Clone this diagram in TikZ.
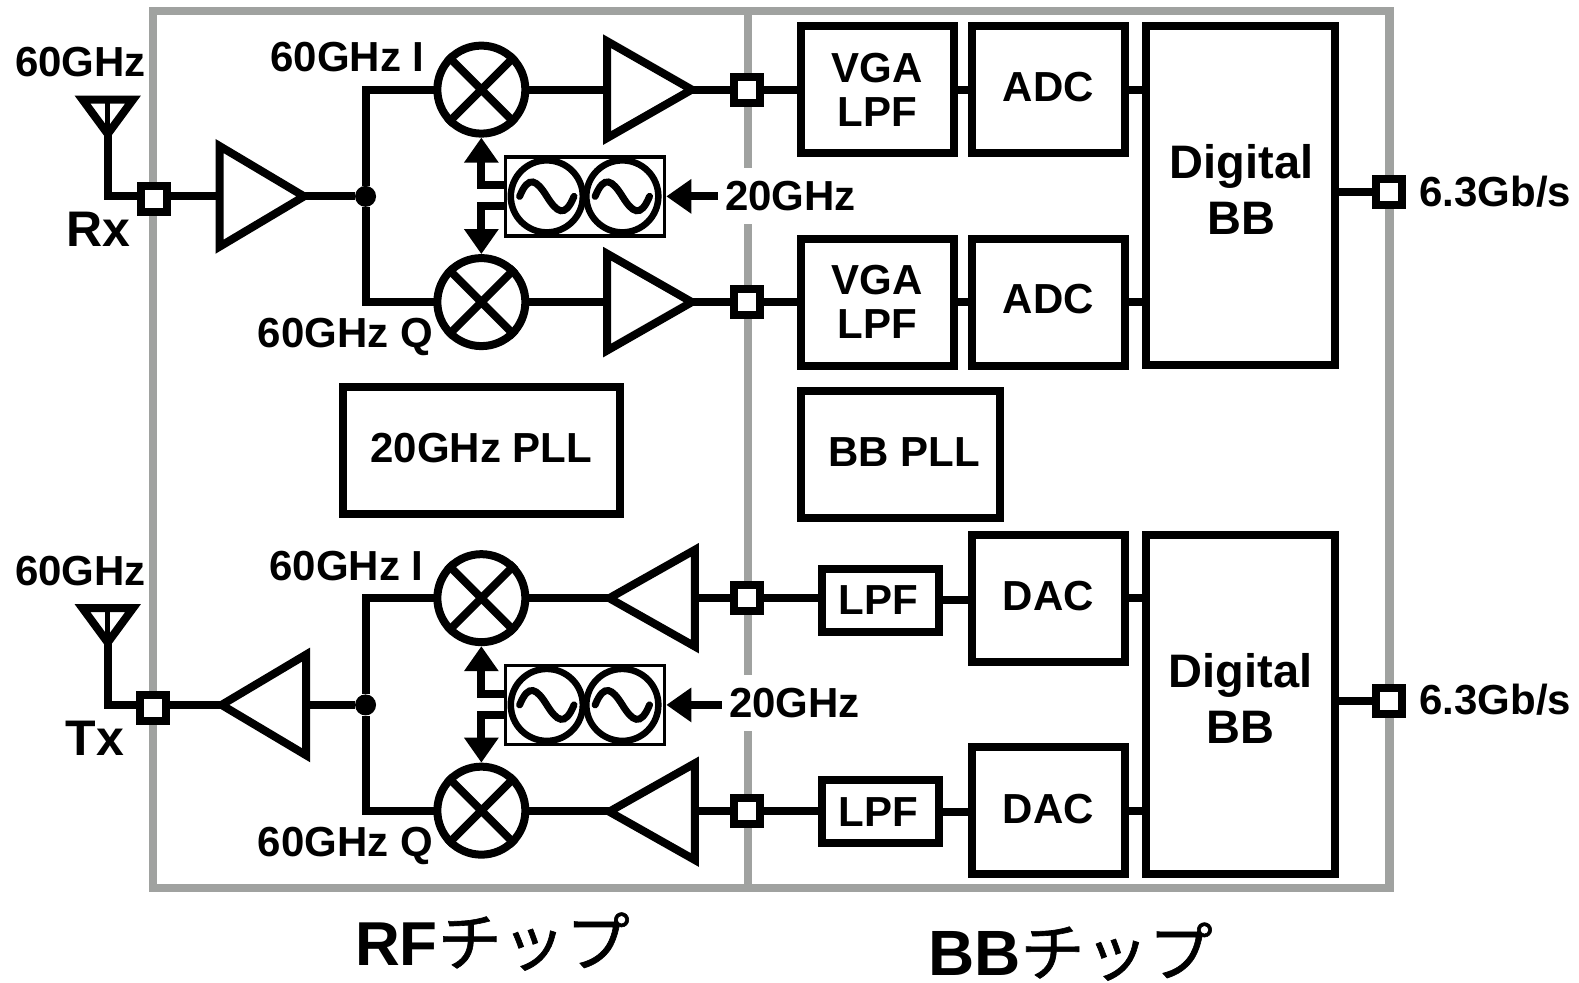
\documentclass[tikz,border=0pt]{standalone}
\usepackage{fontspec}
\setmainfont{Liberation Sans}
\newfontfamily\cjkfont[FakeBold=1]{Noto Sans CJK JP}
\usetikzlibrary{arrows.meta}
\tikzset{
  wire/.style={line width=8pt, draw=black, line join=miter},
  chip/.style={line width=8.5pt, draw=chipgray},
  blockbox/.style={draw=black, line width=8pt, fill=white, align=center, inner sep=0pt, font=\lbl},
  pad/.style={draw=black, line width=8pt, fill=white, minimum size=26pt, inner sep=0pt},
  mixer/.style={circle, draw=black, line width=8pt, fill=white, minimum size=88pt, inner sep=0pt},
  osc/.style={circle, draw=black, line width=6.5pt, minimum size=72pt, inner sep=0pt},
  lobox/.style={draw=black, line width=3.5pt, minimum width=159pt, minimum height=79pt, inner sep=0pt},
  dot/.style={circle, fill=black, minimum size=21pt, inner sep=0pt},
  lab/.style={font=\lbl, inner sep=0pt},
  loarrow/.style={wire, -{Triangle[length=25pt, width=33pt]}},
}
\definecolor{chipgray}{HTML}{A0A2A0}
\newcommand{\lbl}{\fontsize{42}{48}\selectfont\bfseries}
\newcommand{\biglbl}{\fontsize{47}{56}\selectfont\bfseries}
\begin{document}
\begin{tikzpicture}[x=1.007pt, y=-1.007pt]
  \useasboundingbox (0,0) rectangle (1568,976);

  \draw[chip] (152,11) rectangle (743,882);
  \draw[chip] (743,11) rectangle (1380,882);

  % receive side
  \node[pad] (padrx) at (153,198) {};
  \node[pad] (padri) at (742,89) {};
  \node[pad] (padrq) at (742,300) {};
  \node[pad] (padro) at (1379,191) {};
  \node[dot] (dotr) at (363,195) {};
  \coordinate (antr) at (107,133);
  \coordinate (lnarin) at (218,195);
  \coordinate (lnarout) at (302,195);
  \coordinate (ampriin) at (603,89);
  \coordinate (amprout) at (687,89);
  \coordinate (amprqin) at (603,300);
  \coordinate (amprqout) at (687,300);
  \node[blockbox, minimum width=153pt, minimum height=127pt] (vgaa) at (871,89) {VGA\\[-4pt]LPF};
  \node[blockbox, minimum width=153pt, minimum height=127pt] (vgab) at (871,300) {VGA\\[-4pt]LPF};
  \node[blockbox, text depth=6pt, minimum width=153pt, minimum height=127pt] (adca) at (1041,89) {ADC};
  \node[blockbox, text depth=6pt, minimum width=153pt, minimum height=127pt] (adcb) at (1041,300) {ADC};
  \node[blockbox, minimum width=189pt, minimum height=339pt] (digr) at (1232,194.5) {};

  \draw[wire] (antr) -- ++(-25,-34) -- ++(50,0) -- cycle;
  \draw[line width=5pt] (antr) -- ++(0,-34);
  \draw[wire] (lnarin) ++(0,-50) -- (lnarout) -- (218,245) -- cycle;
  \draw[wire] (ampriin) ++(0,-48) -- (amprout) -- (603,137) -- cycle;
  \draw[wire] (amprqin) ++(0,-48) -- (amprqout) -- (603,348) -- cycle;

  \draw[wire] (antr) |- (lnarin);
  \draw[wire] (lnarout) -- (dotr);
  \draw[wire] (478,89) -| (dotr);
  \draw[wire] (478,300) -| (dotr);
  \node[mixer] (mixri) at (478,89) {};
  \node[mixer] (mixrq) at (478,300) {};
  \draw[wire] (mixri) -- (ampriin);
  \draw[wire] (mixrq) -- (amprqin);
  \draw[wire] (amprout) -- (padri);
  \draw[wire] (amprqout) -- (padrq);
  \draw[wire] (padri) -- (vgaa);
  \draw[wire] (padrq) -- (vgab);
  \draw[wire] (vgaa) -- (adca);
  \draw[wire] (vgab) -- (adcb);
  \draw[wire] (adca) -- (adca -| digr.west);
  \draw[wire] (adcb) -- (adcb -| digr.west);
  \draw[wire] (padro) -- (padro -| digr.east);
  \node[pad] at (padrx) {};
  \node[pad] at (padri) {};
  \node[pad] at (padrq) {};
  \node[pad] at (padro) {};

  \node[lobox] (lor) at (581,195) {};
  \node[osc] (osca) at (543,195) {};
  \node[osc] (oscb) at (618,195) {};
  \node[lab, fill=white, minimum height=56pt, inner xsep=7pt] (clkr) at (785,195) {20GHz};
  \draw[loarrow] (lor.west |- 0,184) -| (mixri.south);
  \draw[loarrow] (lor.west |- 0,205) -| (mixrq.north);
  \draw[loarrow] (clkr.west |- lor) -- (lor.east);

  % transmit side
  \node[pad] (padtx) at (152,703) {};
  \node[pad] (padti) at (742,594) {};
  \node[pad] (padtq) at (742,805) {};
  \node[pad] (padto) at (1379,696) {};
  \node[dot] (dott) at (363,700) {};
  \coordinate (antt) at (107,638);
  \coordinate (lnatin) at (304,700);
  \coordinate (lnatout) at (220,700);
  \coordinate (amptiin) at (690,594);
  \coordinate (amptiout) at (605,594);
  \coordinate (amptqin) at (690,806);
  \coordinate (amptqout) at (605,806);
  \node[blockbox, minimum width=117pt, minimum height=63pt] (lpfa) at (874,596) {\hspace*{-4pt}LPF};
  \node[blockbox, minimum width=117pt, minimum height=63pt] (lpfb) at (874,806) {\hspace*{-4pt}LPF};
  \node[blockbox, text depth=4pt, minimum width=153pt, minimum height=127pt] (daca) at (1041,594) {DAC};
  \node[blockbox, text depth=4pt, minimum width=153pt, minimum height=127pt] (dacb) at (1041,805) {DAC};
  \node[blockbox, minimum width=189pt, minimum height=339pt] (digt) at (1232,699.5) {};

  \draw[wire] (antt) -- ++(-25,-34) -- ++(50,0) -- cycle;
  \draw[line width=5pt] (antt) -- ++(0,-34);
  \draw[wire] (lnatin) ++(0,-50) -- (lnatout) -- (304,750) -- cycle;
  \draw[wire] (amptiin) ++(0,-48) -- (amptiout) -- (690,642) -- cycle;
  \draw[wire] (amptqin) ++(0,-48) -- (amptqout) -- (690,854) -- cycle;

  \draw[wire] (antt) |- (lnatout);
  \draw[wire] (lnatin) -- (dott);
  \draw[wire] (478,594) -| (dott);
  \draw[wire] (478,805) -| (dott);
  \node[mixer] (mixti) at (478,594) {};
  \node[mixer] (mixtq) at (478,805) {};
  \draw[wire] (mixti) -- (amptiout);
  \draw[wire] (mixtq) -- (mixtq -| amptqout);
  \draw[wire] (amptiin) -- (padti);
  \draw[wire] (amptqin |- padtq) -- (padtq);
  \draw[wire] (padti) -- (lpfa.west |- padti);
  \draw[wire] (padtq) -- (lpfb.west |- padtq);
  \draw[wire] (lpfa) -- (daca.west |- lpfa);
  \draw[wire] (lpfb) -- (dacb.west |- lpfb);
  \draw[wire] (daca) -- (daca -| digt.west);
  \draw[wire] (dacb) -- (dacb -| digt.west);
  \draw[wire] (padto) -- (padto -| digt.east);
  \node[pad] at (padtx) {};
  \node[pad] at (padti) {};
  \node[pad] at (padtq) {};
  \node[pad] at (padto) {};

  \node[lobox] (lot) at (581,700) {};
  \node[osc] (oscc) at (543,700) {};
  \node[osc] (oscd) at (618,700) {};
  \node[lab, fill=white, minimum height=56pt, inner xsep=7pt] (clkt) at (789,698) {20GHz};
  \draw[loarrow] (lot.west |- 0,689) -| (mixti.south);
  \draw[loarrow] (lot.west |- 0,710) -| (mixtq.north);
  \draw[loarrow] (clkt.west |- lot) -- (lot.east);

  \foreach \m in {mixri,mixrq,mixti,mixtq}
    \draw[wire] (\m.45) -- (\m.225) (\m.135) -- (\m.315);
  \foreach \o in {osca,oscb,oscc,oscd}
    \draw[line width=7pt, line cap=round] (\o) ++(-27,0) .. controls ++(9,-22) and ++(-10,-16) .. ++(27,0) .. controls ++(10,16) and ++(-9,22) .. ++(27,0);

  % plls
  \node[blockbox, text depth=4pt, minimum width=277pt, minimum height=127pt] (pllrf) at (478,447) {20GHz PLL};
  \node[blockbox, text depth=4pt, minimum width=199pt, minimum height=127pt] (pllbb) at (894,451) {\hspace*{8pt}BB PLL};

  % labels
  \node[lab, align=center, font=\biglbl] (digrlab) at (1233,188) {Digital\\BB};
  \node[lab, align=center, font=\biglbl] (digtlab) at (1232,694) {Digital\\BB};
  \node[lab] (antrlab) at (80,62) {60GHz};
  \node[lab] (anttlab) at (80,567) {60GHz};
  \node[lab, font=\fontsize{50}{56}\selectfont\bfseries] (rxlab) at (98,228) {Rx};
  \node[lab, font=\fontsize{50}{56}\selectfont\bfseries] (txlab) at (94,733) {Tx};
  \node[lab] (rilab) at (345,57) {60GHz I};
  \node[lab] (rqlab) at (343,335) {60GHz Q};
  \node[lab] (tilab) at (344,562) {60GHz I};
  \node[lab] (tqlab) at (343,840) {60GHz Q};
  \node[lab] (outrlab) at (1485,190) {6.3Gb/s};
  \node[lab] (outtlab) at (1485,695) {6.3Gb/s};
  \node[lab, font=\fontsize{62}{70}\selectfont\bfseries] (rfchip) at (489,935) {RF{\cjkfont\mdseries\fontsize{64}{70}\selectfont チップ}};
  \node[lab, font=\fontsize{64}{70}\selectfont\bfseries] (bbchip) at (1063,945) {BB{\cjkfont\mdseries\fontsize{64}{70}\selectfont チップ}};
\end{tikzpicture}
\end{document}
